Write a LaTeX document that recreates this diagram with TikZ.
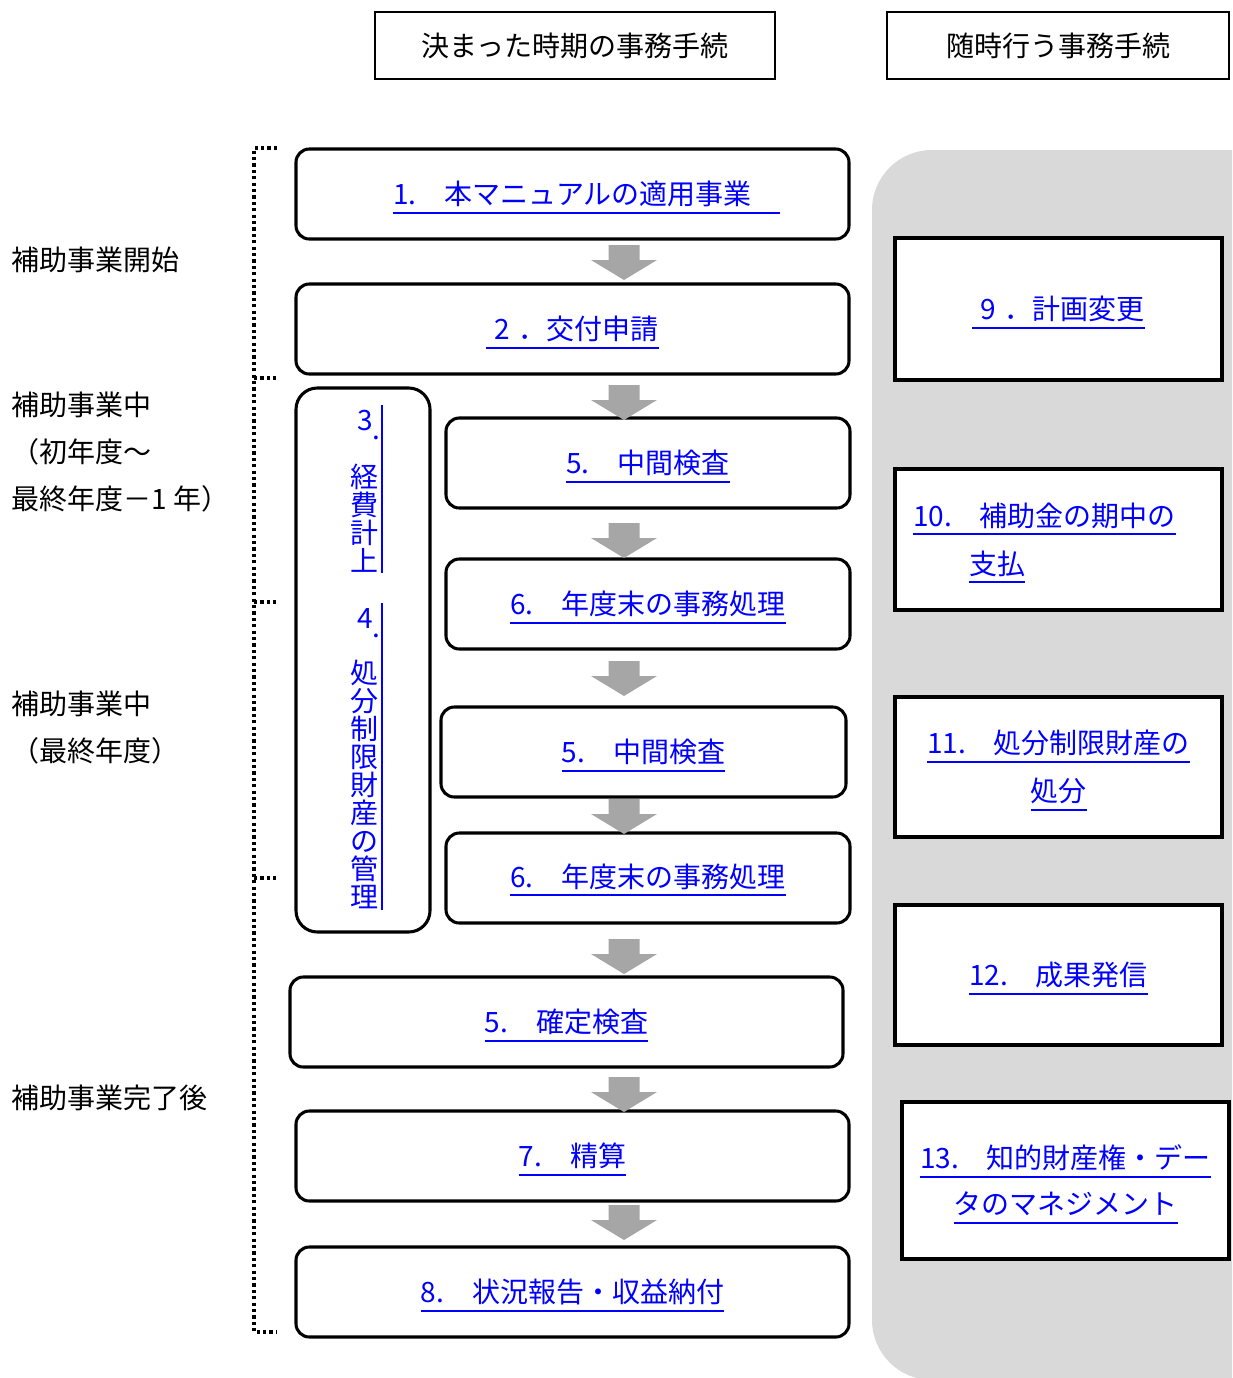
\documentclass[tikz,border=0pt]{standalone}
\usepackage{fontspec}
\newfontfamily\jp{Noto Sans CJK JP}
\definecolor{panelgray}{RGB}{217,217,217}
\definecolor{arrowgray}{RGB}{166,166,166}
\definecolor{linkblue}{RGB}{0,0,255}
\newbox\myulbox
\newcommand\ulx[1]{\setbox\myulbox\hbox{#1}\rlap{\smash{\rule[-6.75pt]{\wd\myulbox}{1.5pt}}}\box\myulbox}
\begin{document}
\begin{tikzpicture}[x=0.75pt,y=-0.75pt,
 txt/.style={font={\jp\fontsize{21pt}{35.25pt}\selectfont}, inner sep=0pt},
 wh/.style 2 args={minimum width=#1*0.75pt, minimum height=#2*0.75pt},
 headbox/.style={draw, line width=1.2pt, txt},
 stepbox/.style={draw, line width=2.3pt, rounded corners=10pt, fill=white, txt, text=linkblue},
 tallbox/.style={draw, line width=2.3pt, rounded corners=16pt, fill=white, inner sep=0pt},
 sidebox/.style={draw, line width=2.6pt, fill=white, txt, text=linkblue, align=center},
 vtext/.style={txt, text=linkblue, align=center, font={\jp\fontsize{21pt}{21pt}\selectfont}},
 ulrule/.style={draw=linkblue, line width=1.5pt},
 dotline/.style={line width=2.6pt, dash pattern=on 2.4pt off 2.4pt},
 downarr/.pic={\fill[arrowgray] (-15.5,0) -- (15.5,0) -- (15.5,15) -- (33,15) -- (0,35) -- (-33,15) -- (-15.5,15) -- cycle;}
]
\useasboundingbox (0,0) rectangle (1232,1378);
\begin{scope}
\clip (0,0) rectangle (1232,1378);
\fill[panelgray, rounded corners=45pt] (872,150) rectangle (1320,1380);
\end{scope}

% headers
\node[headbox, wh={400}{67}] (h1) at (575,45.5) {決まった時期の事務手続};
\node[headbox, wh={342}{67}] (h2) at (1058,45.5) {随時行う事務手続};

% left labels
\node[txt, anchor=west] (l1) at (11,260) {補助事業開始};
\node[txt, anchor=west, align=left] (l2) at (11,452.5) {補助事業中\\（初年度～\\最終年度－1 年）};
\node[txt, anchor=west, align=left] (l3) at (11,727.5) {補助事業中\\（最終年度）};
\node[txt, anchor=west] (l4) at (11,1098) {補助事業完了後};

% dotted bracket
\coordinate (bt) at (277,148);
\coordinate (bb) at (277,1332);
\draw[dotline] (bt) -- (254,148) -- (254,1332) -- (bb);
\foreach \yy in {378,602,878} \draw[dotline] (254,\yy) -- (277,\yy);

% main flow boxes
\node[stepbox, wh={553}{90}] (s1) at (572.5,194) {\hspace*{1em}\ulx{1.　本マニュアルの適用事業　}};
\node[stepbox, wh={553}{90}] (s2) at (572.5,329) {\ulx{\hspace{0.3em}2\hspace{0.3em}．交付申請}};
\node[tallbox, wh={134}{544}] (s34) at (363,660) {};
\node[stepbox, wh={404}{90}] (s5a) at (648,463) {\ulx{5.　中間検査}};
\node[stepbox, wh={404}{90}] (s6a) at (648,604) {\ulx{6.　年度末の事務処理}};
\node[stepbox, wh={405}{90}] (s5b) at (643.5,752) {\ulx{5.　中間検査}};
\node[stepbox, wh={404}{90}] (s6b) at (648,878) {\raisebox{3.75pt}{\ulx{6.　年度末の事務処理}}};
\node[stepbox, wh={553}{90}] (s5c) at (566.5,1022) {\ulx{5.　確定検査}};
\node[stepbox, wh={553}{90}] (s7) at (572.5,1156) {\ulx{7.　精算}};
\node[stepbox, wh={553}{90}] (s8) at (572.5,1292) {\ulx{8.　状況報告・収益納付}};

% vertical text in tall box
\node[txt, text=linkblue, anchor=base west] (n3) at (357,430) {3\raisebox{-0.35em}{.}};
\node[vtext] (v3) at (364,518) {経\\費\\計\\上};
\draw[ulrule] (382,405) -- (382,573);
\node[txt, text=linkblue, anchor=base west] (n4) at (357,628) {4\raisebox{-0.35em}{.}};
\node[vtext] (v4) at (364,784.5) {処\\分\\制\\限\\財\\産\\の\\管\\理};
\draw[ulrule] (382,603) -- (382,910);

% block arrows
\foreach \yy in {245,385,523,661,799,939,1077,1205} \pic at (624,\yy) {downarr};

% side boxes
\node[sidebox, wh={327}{142}] (r9) at (1058.5,309) {\ulx{\hspace{0.3em}9\hspace{0.3em}．計画変更}};
\node[sidebox, wh={327}{141}, align=left, font={\jp\fontsize{21pt}{36pt}\selectfont}] (r10) at (1058.5,539.5) {\ulx{10.　補助金の期中の}\hbox to 1em{}\\\hbox to 2em{}\ulx{支払}};
\node[sidebox, wh={327}{140}, font={\jp\fontsize{21pt}{36pt}\selectfont}] (r11) at (1058.5,767) {\ulx{11.　処分制限財産の}\\\ulx{処分}};
\node[sidebox, wh={327}{140}] (r12) at (1058.5,975) {\ulx{12.　成果発信}};
\node[sidebox, wh={327}{157}, font={\jp\fontsize{21pt}{34.5pt}\selectfont}] (r13) at (1065.5,1180.5) {\ulx{13.　知的財産権・デー}\\\ulx{タのマネジメント}};
\end{tikzpicture}
\end{document}
